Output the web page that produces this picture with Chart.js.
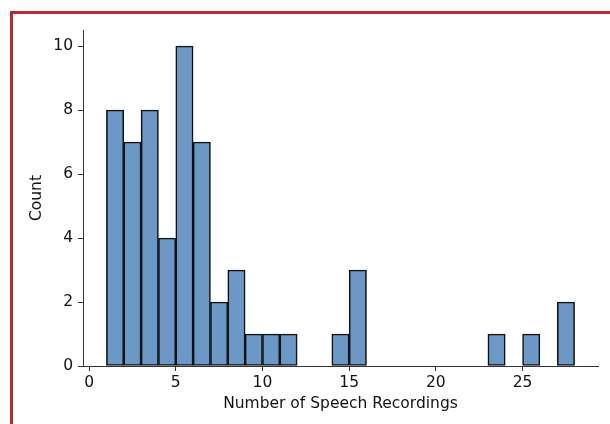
<!DOCTYPE html>
<html>
<head>
<meta charset="utf-8">
<script src="https://cdn.jsdelivr.net/npm/chart.js@4/dist/chart.umd.min.js"></script>
<style>
  html, body { margin: 0; padding: 0; background: #fff; }
  #wrap { position: relative; width: 610px; height: 424px; }
  #frame {
    position: absolute; left: 10px; top: 11px; width: 600px; height: 413px;
    border-top: 3px solid #c1272d; border-left: 3px solid #c1272d;
    box-sizing: border-box; pointer-events: none;
  }
</style>
</head>
<body>
<div id="wrap">
  <canvas id="hist" width="610" height="424"></canvas>
  <div id="frame"></div>
</div>
<script>
// histogram bins (left edges, width 1) and counts
const binStarts = [1, 2, 3, 4, 5, 6, 7, 8, 9, 10, 11, 12, 13, 14, 15, 16, 17, 18, 19, 20, 21, 22, 23, 24, 25, 26, 27];
const counts    = [8, 7, 8, 4, 10, 7, 2, 3, 1, 1, 1, 0, 0, 1, 3, 0, 0, 0, 0, 0, 0, 0, 1, 0, 1, 0, 2];
const xTicks = [0, 5, 10, 15, 20, 25];
const yTicks = [0, 2, 4, 6, 8, 10];

const points = [];
binStarts.forEach((s, i) => {
    if (counts[i] > 0) points.push({ x: s + 0.5, y: counts[i] });
});

const font = { family: 'DejaVu Sans', size: 15.5 };
const axisColor = '#333';

new Chart(document.getElementById('hist'), {
    type: 'bar',
    data: {
        datasets: [{
            data: points,
            backgroundColor: '#6b98c6',
            borderColor: '#111',
            borderWidth: 1.6,
            borderSkipped: false,
            barPercentage: 1,
            categoryPercentage: 1,
            grouped: false
        }]
    },
    options: {
        responsive: false,
        animation: false,
        layout: { padding: { top: 30, right: 12, left: 0, bottom: 0 } },
        plugins: { legend: { display: false }, tooltip: { enabled: false } },
        scales: {
            x: {
                type: 'linear',
                min: -0.35,
                max: 29.35,
                offset: false,
                afterBuildTicks: (scale) => { scale.ticks = xTicks.map(v => ({ value: v })); },
                afterFit: (scale) => { scale.height = 58; },
                grid: { display: true, drawOnChartArea: false, offset: false, tickLength: 5, tickColor: axisColor },
                border: { display: true, color: axisColor, width: 1 },
                ticks: { color: '#111', font: font, padding: 3, maxRotation: 0 },
                title: { display: true, text: 'Number of Speech Recordings', color: '#111', font: font, padding: { top: 0, bottom: 11 } }
            },
            y: {
                min: 0,
                max: 10.5,
                afterBuildTicks: (scale) => { scale.ticks = yTicks.map(v => ({ value: v })); },
                afterFit: (scale) => { scale.width = 83; },
                grid: { display: true, drawOnChartArea: false, tickLength: 5, tickColor: axisColor },
                border: { display: true, color: axisColor, width: 1 },
                ticks: { color: '#111', font: font, padding: 5 },
                title: { display: true, text: 'Count', color: '#111', font: font, padding: { top: 28, bottom: 0 } }
            }
        }
    }
});
</script>
</body>
</html>
